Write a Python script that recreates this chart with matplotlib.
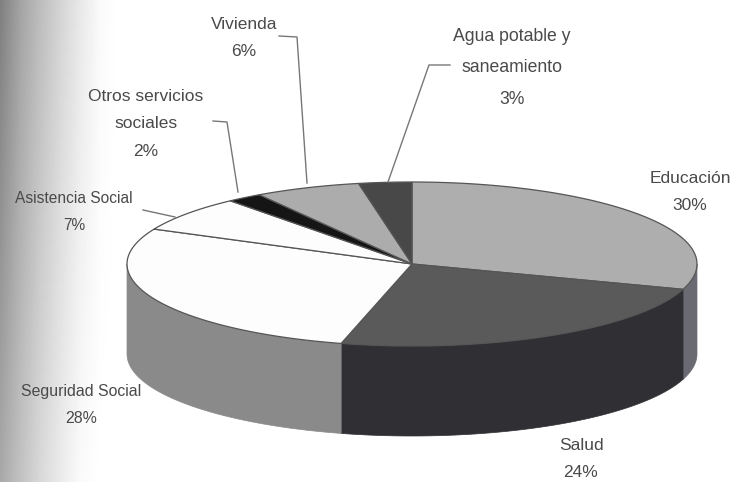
import numpy as np
import matplotlib
matplotlib.use("Agg")
import matplotlib.pyplot as plt
from matplotlib.patches import Polygon

plt.rcParams['font.family'] = ['Liberation Sans', 'DejaVu Sans']

labels = ['Educación', 'Salud', 'Seguridad Social', 'Asistencia Social',
          'Otros servicios\nsociales', 'Vivienda', 'Agua potable y\nsaneamiento']
values = [30, 24, 28, 7, 2, 6, 3]
top_colors = ['#aeaeae', '#5a5a5a', '#fdfdfd', '#fdfdfd', '#151515', '#acacac', '#484848']
side_colors = ['#6a6a72', '#303034', '#8a8a8a', '#bbbbbb', '#111111', '#777777', '#333333']

# shadow of the book fold on the left edge of the scan, top and bottom of page
shade_x = [0, 20, 40, 60, 80, 100, 118, 738]
shade_top = [0.50, 0.64, 0.74, 0.83, 0.91, 0.98, 1.0, 1.0]
shade_bot = [0.66, 0.76, 0.85, 0.92, 0.98, 1.0, 1.0, 1.0]

# label text, where it sits, its size, and leader lines
label_pos = [(690, 192), (581, 459), (81, 405), (74, 212), (146, 124), (244, 38), (512, 68)]
label_size = [12.5, 12.5, 11.4, 11.2, 12.5, 12.5, 12.7]
leaders = [
    [(279, 36), (297, 37), (307, 183)],
    [(213, 121), (227, 122), (238, 192)],
    [(143, 210), (175, 217)],
    [(450, 65), (429, 65), (388, 182)],
]

cx, cy = 412, 264
rx, ry = 285, 82
depth = 90


def rim(a):
    a = np.radians(a)
    return np.column_stack([cx + rx * np.sin(a), cy - ry * np.cos(a)])


fig = plt.figure(figsize=(7.38, 4.82), dpi=100)
ax = fig.add_axes([0, 0, 1, 1])
ax.set_xlim(0, 738)
ax.set_ylim(482, 0)
ax.axis('off')

top = np.interp(np.arange(738), shade_x, shade_top)
bot = np.interp(np.arange(738), shade_x, shade_bot)
grad = np.linspace(top, bot, 482)
ax.imshow(grad, cmap='gray', vmin=0, vmax=1, extent=[0, 738, 482, 0], aspect='auto', zorder=0)

edges = np.cumsum([0] + values) * 3.6

# sides first, only the part of the wall facing us
for i in range(len(values)):
    a0, a1 = max(edges[i], 90), min(edges[i + 1], 270)
    if a1 <= a0:
        continue
    arc = rim(np.linspace(a0, a1, 80))
    low = arc + [0, depth]
    ax.add_patch(Polygon(np.vstack([arc, low[::-1]]), closed=True, fc=side_colors[i],
                         ec=side_colors[i], lw=0.5, zorder=2))

for i in range(len(values)):
    arc = rim(np.linspace(edges[i], edges[i + 1], 80))
    ax.add_patch(Polygon(np.vstack([[cx, cy], arc]), closed=True, fc=top_colors[i],
                         ec='#555555', lw=0.9, zorder=3))

for pts in leaders:
    pts = np.array(pts)
    ax.plot(pts[:, 0], pts[:, 1], color='#777777', lw=1.0, zorder=4)

for name, v, (x, y), fs in zip(labels, values, label_pos, label_size):
    ax.text(x, y, f'{name}\n{v}%', ha='center', va='center', fontsize=fs,
            color='#4a4a4a', linespacing=2.08, zorder=5)

fig.savefig('out.png', dpi=100)
